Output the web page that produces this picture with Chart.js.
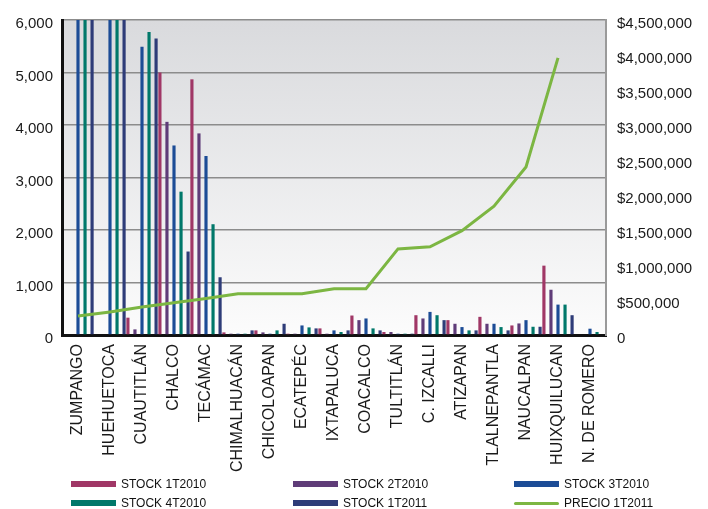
<!DOCTYPE html>
<html>
<head>
<meta charset="utf-8">
<script src="https://cdn.jsdelivr.net/npm/chart.js@4.4.0/dist/chart.umd.min.js"></script>
<style>
html, body { margin: 0; padding: 0; background: #fff; }
#wrap { position: relative; width: 708px; height: 509px; }
#legend { position: absolute; left: 0; top: 0; width: 708px; height: 509px; pointer-events: none;
	font-family: "Liberation Sans", Arial, sans-serif; font-size: 12px; color: #111; }
.item { position: absolute; display: flex; align-items: center; height: 14px; }
.sw { width: 45px; height: 6px; margin-right: 5px; }
.sw.line { height: 3px; border-radius: 2px; }
</style>
</head>
<body>
<div id="wrap">
	<canvas id="stockChart" width="708" height="509"></canvas>
	<div id="legend"></div>
</div>
<script>
var categories = ['ZUMPANGO', 'HUEHUETOCA', 'CUAUTITLÁN', 'CHALCO', 'TECÁMAC', 'CHIMALHUACÁN',
	'CHICOLOAPAN', 'ECATEPÉC', 'IXTAPALUCA', 'COACALCO', 'TULTITLÁN', 'C. IZCALLI',
	'ATIZAPAN', 'TLALNEPANTLA', 'NAUCALPAN', 'HUIXQUILUCAN', 'N. DE ROMERO'];

// bars above 6,000 are cut off in the original, so those values are guesses
var stock1T2010 = [0, 0, 330, 5000, 4870, 50, 88, 25, 126, 371, 57, 377, 283, 346, 182, 1321, 0];
var stock2T2010 = [0, 0, 107, 4060, 3840, 25, 50, 25, 25, 283, 57, 315, 214, 214, 220, 862, 0];
var stock3T2010 = [7000, 7000, 5490, 3610, 3410, 25, 25, 182, 88, 315, 25, 440, 151, 214, 283, 579, 120];
var stock4T2010 = [7000, 7000, 5770, 2730, 2110, 25, 88, 145, 57, 126, 25, 377, 88, 151, 157, 579, 57];
var stock1T2011 = [7000, 7000, 5650, 1590, 1100, 88, 214, 126, 88, 88, 25, 283, 88, 88, 157, 377, 0];
var precio1T2011 = [270000, 330000, 400000, 460000, 520000, 590000, 590000, 590000, 660000, 660000,
	1230000, 1260000, 1490000, 1840000, 2400000, 3960000, null];

var stockTicks = [0, 1000, 2000, 3000, 4000, 5000, 6000];
var precioTicks = [0, 500000, 1000000, 1500000, 2000000, 2500000, 3000000, 3500000, 4000000, 4500000];

var fontFamily = '"Liberation Sans", Arial, sans-serif';

function barSet(label, color, data) {
	return {
		type: 'bar',
		label: label,
		data: data,
		backgroundColor: color,
		borderWidth: 0,
		categoryPercentage: 1.1,
		barPercentage: 0.45,
		yAxisID: 'y',
		clip: 0,
		order: 1
	};
}

var datasets = [
	barSet('STOCK 1T2010', 'rgb(160, 55, 102)', stock1T2010),
	barSet('STOCK 2T2010', 'rgb(95, 60, 120)', stock2T2010),
	barSet('STOCK 3T2010', 'rgb(28, 76, 150)', stock3T2010),
	barSet('STOCK 4T2010', 'rgb(0, 120, 106)', stock4T2010),
	barSet('STOCK 1T2011', 'rgb(46, 60, 120)', stock1T2011),
	{
		type: 'line',
		label: 'PRECIO 1T2011',
		data: precio1T2011,
		borderColor: 'rgb(124, 182, 66)',
		borderWidth: 3,
		pointRadius: 0,
		tension: 0,
		spanGaps: false,
		yAxisID: 'y1',
		order: 0
	}
];

// grey-to-white backdrop behind the plot
var plotBackground = {
	id: 'plotBackground',
	beforeDraw: function(chart) {
		var a = chart.chartArea;
		var ctx = chart.ctx;
		var g = ctx.createLinearGradient(0, a.top, 0, a.bottom);
		g.addColorStop(0, '#d9dadd');
		g.addColorStop(1, '#fcfcfc');
		ctx.save();
		ctx.fillStyle = g;
		ctx.fillRect(a.left, a.top, a.right - a.left, a.bottom - a.top);
		ctx.restore();
	}
};

var ctx = document.getElementById('stockChart').getContext('2d');
new Chart(ctx, {
	type: 'bar',
	data: { labels: categories, datasets: datasets },
	plugins: [plotBackground],
	options: {
		responsive: false,
		animation: false,
		layout: { padding: { top: 17, bottom: 34, left: 0, right: 0 } },
		plugins: {
			legend: { display: false },
			tooltip: { enabled: false }
		},
		scales: {
			x: {
				grid: { display: false, drawTicks: false },
				border: { color: '#111', width: 3 },
				ticks: {
					autoSkip: false, maxRotation: 90, minRotation: 90, padding: 9,
					color: '#1a1a1a', font: { family: fontFamily, size: 16 }
				},
				afterFit: function(s) { s.height = 140; }
			},
			y: {
				position: 'left',
				min: 0, max: 6000,
				afterBuildTicks: function(s) { s.ticks = stockTicks.map(function(v) { return { value: v }; }); },
				ticks: {
					padding: 9, labelOffset: 4, color: '#1a1a1a',
					font: { family: fontFamily, size: 15 },
					callback: function(v) { return v.toLocaleString('en-US'); }
				},
				grid: { color: '#8c8c8c', lineWidth: 1.5, drawTicks: false },
				border: { color: '#111', width: 3 },
				afterFit: function(s) { s.width = 62; }
			},
			y1: {
				position: 'right',
				min: 0, max: 4500000,
				afterBuildTicks: function(s) { s.ticks = precioTicks.map(function(v) { return { value: v }; }); },
				ticks: {
					padding: 11, labelOffset: 4, color: '#1a1a1a',
					font: { family: fontFamily, size: 15 },
					callback: function(v) { return v === 0 ? '0' : '$' + v.toLocaleString('en-US'); }
				},
				grid: { display: false, drawTicks: false },
				border: { color: '#9a9a9a', width: 2 },
				afterFit: function(s) { s.width = 102; }
			}
		}
	}
});

// legend laid out as the original: three columns, two rows
var legendCols = [71, 293, 514];
var legendRows = [477, 496];
var legend = document.getElementById('legend');
datasets.forEach(function(d, i) {
	var item = document.createElement('div');
	item.className = 'item';
	item.style.left = legendCols[i % 3] + 'px';
	item.style.top = legendRows[Math.floor(i / 3)] + 'px';
	var sw = document.createElement('span');
	sw.className = d.type === 'line' ? 'sw line' : 'sw';
	sw.style.background = d.type === 'line' ? d.borderColor : d.backgroundColor;
	var txt = document.createElement('span');
	txt.textContent = d.label;
	item.appendChild(sw);
	item.appendChild(txt);
	legend.appendChild(item);
});
</script>
</body>
</html>
